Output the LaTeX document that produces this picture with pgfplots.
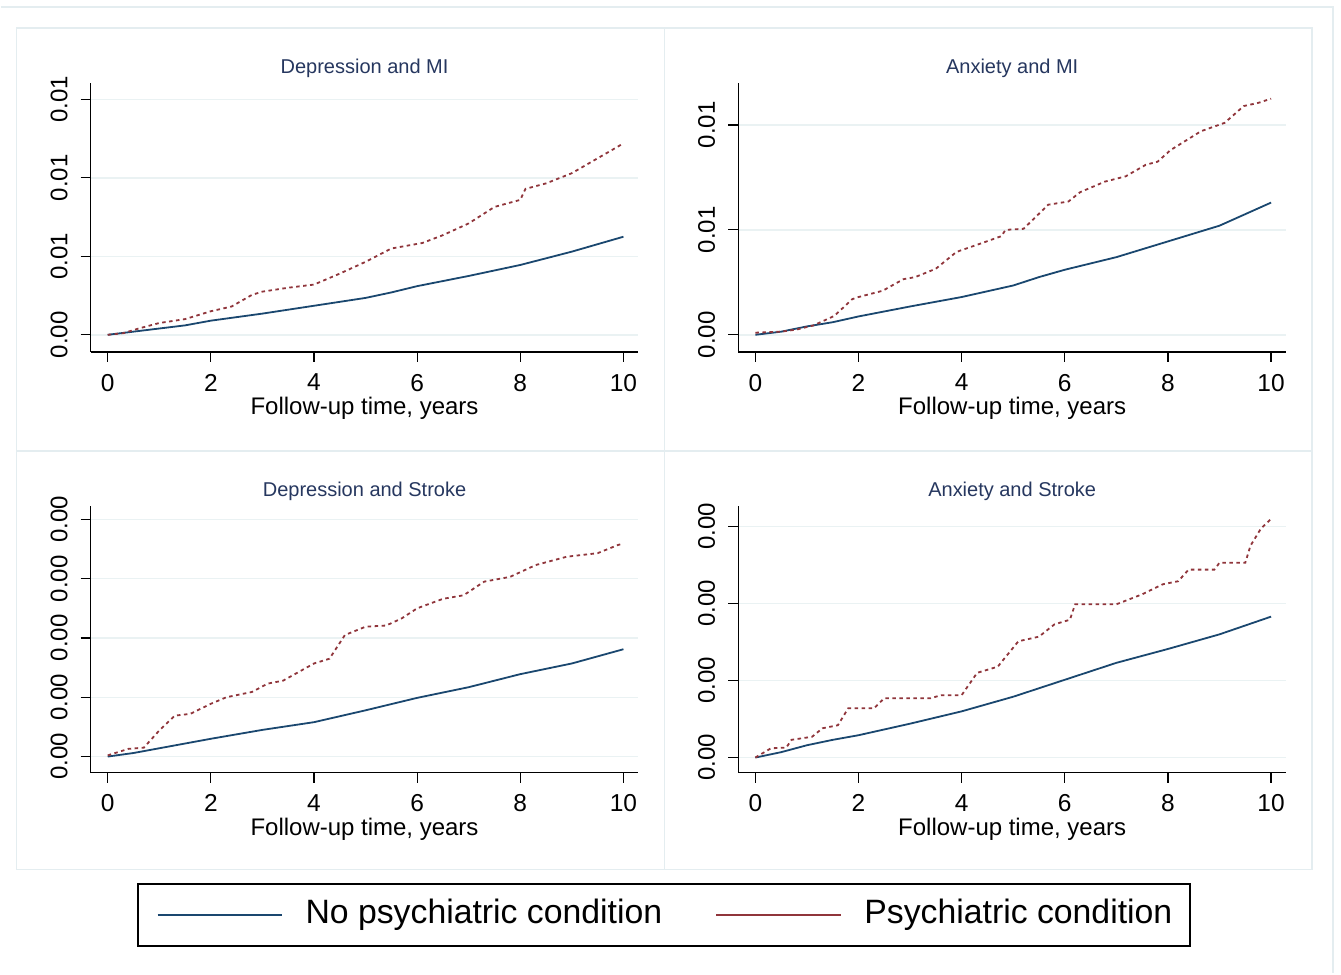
\documentclass[border=0pt]{standalone}
\usepackage{pgfplots}
\pgfplotsset{compat=1.18}
\usepackage{fontspec}
\setmainfont{Liberation Sans}
\definecolor{snavy}{RGB}{26,71,111}
\definecolor{smaroon}{RGB}{144,53,59}
\definecolor{sgrid}{RGB}{234,242,243}
\definecolor{sframe}{RGB}{228,237,240}
\definecolor{stitle}{RGB}{38,55,95}
\pgfplotsset{
  panel/.style={
    scale only axis, width=548bp,
    axis lines=left, axis line style={-, line width=1.5bp, black},
    xmin=-0.33, xmax=10.29, xtick={0,2,4,6,8,10},
    tick align=outside, major tick length=10bp,
    tick style={black, line width=1.2bp},
    ymajorgrids, grid style={sgrid, line width=1.5bp},
    tick label style={font=\fontsize{24bp}{28bp}\selectfont},
    /pgf/number format/assume math mode=true,
    yticklabel style={rotate=90, anchor=south, inner sep=0pt},
    yticklabel shift=13bp,
    xticklabel style={anchor=north, inner sep=0pt, font=\fontsize{24.5bp}{28bp}\selectfont},
    xticklabel shift=12bp,
    xlabel={Follow-up time, years},
    xlabel style={font=\fontsize{24bp}{28bp}\selectfont, at={(axis description cs:0.5,0)}, anchor=north, yshift=-45.5bp, inner sep=0pt},
    title style={font=\fontsize{20bp}{24bp}\selectfont, text=stitle, at={(axis description cs:0.5,1)}, anchor=south, yshift=-1bp, inner sep=0pt},
  },
  blueline/.style={snavy, line width=1.8bp},
  redline/.style={smaroon, line width=1.8bp, dash pattern=on 3.5bp off 3.5bp},
}
\begin{document}
\begin{tikzpicture}
\fill[white] (0bp,0bp) rectangle (1341bp,-974bp);
\draw[sframe, line width=1.5bp] (0bp,-7bp) -- (1333bp,-7bp) -- (1333bp,-974bp);
\draw[sframe, line width=1.5bp] (16bp,-28bp) rectangle (1312bp,-870bp);
\draw[sframe, line width=1.5bp] (664bp,-28bp) -- (664bp,-870bp);
\draw[sframe, line width=1.5bp] (16bp,-451bp) -- (1312bp,-451bp);

% Panel 1
\begin{axis}[panel, at={(90bp,-352bp)}, anchor=south west, height=269bp,
  ymin=-0.217, ymax=3.21, ytick={0,1,2,3}, yticklabels={0.00,0.01,0.01,0.01},
  title={Depression and MI}]
\addplot[blueline] coordinates {(0,0) (0.5,0.04) (1,0.08) (1.5,0.12) (2,0.18) (3,0.27) (4,0.37) (5,0.47) (5.5,0.54) (6,0.62) (7,0.75) (8,0.89) (9,1.06) (10,1.25)};
\addplot[redline] coordinates {(0,0) (0.3,0.02) (0.6,0.08) (1.0,0.15) (1.5,0.2) (2.0,0.30) (2.4,0.36) (2.8,0.51) (3.0,0.55) (3.5,0.6) (4.0,0.64) (4.5,0.78) (5.0,0.93) (5.5,1.10) (6.1,1.17) (6.5,1.27) (7.0,1.42) (7.5,1.63) (8.0,1.72) (8.1,1.86) (8.5,1.93) (9.0,2.06) (9.5,2.25) (10,2.44)};
\end{axis}

% Panel 2
\begin{axis}[panel, at={(738bp,-352bp)}, anchor=south west, height=269bp,
  ymin=-0.162, ymax=2.40, ytick={0,1,2}, yticklabels={0.00,0.01,0.01},
  title={Anxiety and MI}]
\addplot[blueline] coordinates {(0,0) (0.5,0.03) (1,0.08) (1.5,0.12) (2,0.175) (3,0.27) (4,0.36) (5,0.47) (5.5,0.55) (6,0.62) (7,0.74) (8,0.89) (9,1.04) (10,1.26)};
\addplot[redline] coordinates {(0,0.02) (0.5,0.03) (0.8,0.05) (1.13,0.09) (1.53,0.18) (1.88,0.34) (2.0,0.36) (2.47,0.42) (2.87,0.53) (3.1,0.55) (3.5,0.63) (3.9,0.79) (4.37,0.87) (4.77,0.94) (4.85,1.0) (5.2,1.01) (5.68,1.24) (6.07,1.27) (6.3,1.36) (6.78,1.46) (7.18,1.51) (7.57,1.62) (7.8,1.65) (8.05,1.76) (8.64,1.94) (9.1,2.02) (9.47,2.18) (9.75,2.21) (10,2.25)};
\end{axis}

% Panel 3
\begin{axis}[panel, at={(90bp,-773bp)}, anchor=south west, height=267bp,
  ymin=-0.27, ymax=4.23, ytick={0,1,2,3,4}, yticklabels={0.00,0.00,0.00,0.00,0.00},
  title={Depression and Stroke},
  legend columns=2,
  legend image code/.code={\draw[#1] (0bp,0bp) -- (125bp,0bp);},
  legend style={at={(axis description cs:1.0474,-0.5337)}, anchor=center,
    draw=black, line width=2bp, fill=white,
    font=\fontsize{33.8bp}{38bp}\selectfont,
    inner xsep=18bp, inner ysep=16bp,
    nodes={inner xsep=0pt, inner ysep=0pt, text height=24bp, text depth=7bp},
    /tikz/every odd column/.append style={column sep=22bp},
    /tikz/every even column/.append style={column sep=53bp}},
  ]
\addplot[blueline, forget plot] coordinates {(0,0) (0.5,0.06) (1,0.14) (1.5,0.22) (2,0.30) (3,0.45) (4,0.58) (5,0.78) (6,0.99) (7,1.17) (8,1.39) (9,1.57) (10,1.81)};
\addplot[redline, forget plot] coordinates {(0,0.02) (0.4,0.13) (0.7,0.15) (1.0,0.44) (1.3,0.69) (1.6,0.72) (2.0,0.89) (2.3,1.0) (2.8,1.09) (3.1,1.23) (3.4,1.28) (4.0,1.57) (4.3,1.65) (4.6,2.05) (5.0,2.19) (5.4,2.21) (5.7,2.33) (6.0,2.50) (6.5,2.66) (6.9,2.72) (7.3,2.95) (7.8,3.03) (8.3,3.23) (8.9,3.37) (9.5,3.43) (9.9,3.57) (10,3.59)};
\addlegendimage{snavy, line width=2.2bp}
\addlegendentry{No psychiatric condition}
\addlegendimage{smaroon, line width=2.2bp}
\addlegendentry{Psychiatric condition}
\end{axis}

% Panel 4
\begin{axis}[panel, at={(738bp,-773bp)}, anchor=south west, height=267bp,
  ymin=-0.195, ymax=3.27, ytick={0,1,2,3}, yticklabels={0.00,0.00,0.00,0.00},
  title={Anxiety and Stroke}]
\addplot[blueline] coordinates {(0,0) (0.5,0.07) (1,0.16) (1.5,0.23) (2,0.29) (3,0.44) (4,0.60) (5,0.79) (6,1.01) (7,1.23) (8,1.41) (9,1.60) (10,1.83)};
\addplot[redline] coordinates {(0,0) (0.3,0.12) (0.6,0.13) (0.7,0.23) (1.1,0.27) (1.3,0.38) (1.6,0.42) (1.8,0.64) (2.3,0.64) (2.5,0.77) (3.4,0.77) (3.6,0.81) (4.0,0.81) (4.3,1.1) (4.7,1.18) (5.1,1.51) (5.5,1.57) (5.8,1.73) (6.1,1.79) (6.2,1.99) (7.0,1.99) (7.5,2.12) (7.9,2.25) (8.2,2.29) (8.4,2.44) (8.9,2.44) (9.0,2.53) (9.5,2.53) (9.6,2.75) (9.8,2.97) (10,3.1)};
\end{axis}
\end{tikzpicture}
\end{document}
